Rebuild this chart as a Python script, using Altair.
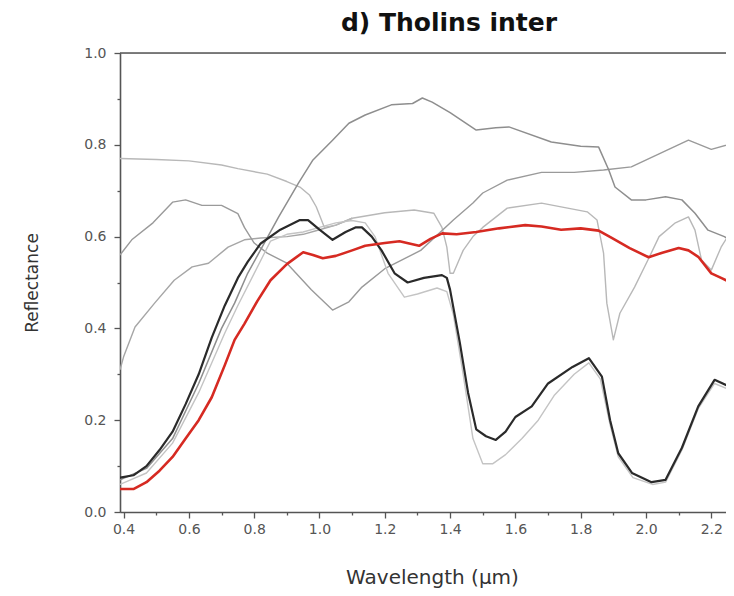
import altair as alt
import pandas as pd

# ---- data ----
red_x = [0.389, 0.43, 0.47, 0.51, 0.55, 0.59, 0.63, 0.67, 0.71, 0.74, 0.77, 0.81, 0.85, 0.90, 0.95, 0.98, 1.01, 1.05, 1.10, 1.14, 1.20, 1.245, 1.305, 1.34, 1.376, 1.42, 1.48, 1.55, 1.63, 1.68, 1.74, 1.80, 1.855, 1.895, 1.95, 2.008, 2.05, 2.10, 2.13, 2.16, 2.20, 2.23, 2.26]
red_y = [0.05, 0.05, 0.065, 0.09, 0.12, 0.16, 0.20, 0.25, 0.32, 0.375, 0.41, 0.46, 0.505, 0.54, 0.566, 0.56, 0.553, 0.558, 0.57, 0.58, 0.586, 0.59, 0.58, 0.595, 0.607, 0.605, 0.61, 0.618, 0.625, 0.622, 0.615, 0.618, 0.613, 0.597, 0.575, 0.555, 0.565, 0.575, 0.57, 0.556, 0.52, 0.51, 0.50]

black_x = [0.389, 0.43, 0.47, 0.51, 0.55, 0.59, 0.63, 0.67, 0.71, 0.75, 0.78, 0.82, 0.88, 0.94, 0.965, 1.00, 1.04, 1.08, 1.11, 1.13, 1.16, 1.19, 1.23, 1.27, 1.32, 1.375, 1.39, 1.40, 1.43, 1.455, 1.48, 1.51, 1.54, 1.57, 1.60, 1.65, 1.70, 1.775, 1.825, 1.865, 1.89, 1.915, 1.957, 2.017, 2.06, 2.11, 2.16, 2.21, 2.26]
black_y = [0.075, 0.08, 0.10, 0.135, 0.175, 0.235, 0.30, 0.38, 0.45, 0.51, 0.545, 0.585, 0.615, 0.636, 0.636, 0.615, 0.593, 0.61, 0.62, 0.62, 0.60, 0.57, 0.52, 0.50, 0.51, 0.516, 0.51, 0.484, 0.368, 0.26, 0.18, 0.165, 0.157, 0.175, 0.207, 0.23, 0.28, 0.316, 0.335, 0.295, 0.20, 0.128, 0.085, 0.065, 0.07, 0.14, 0.23, 0.288, 0.272]

lgray_x = [0.389, 0.47, 0.55, 0.63, 0.71, 0.75, 0.80, 0.85, 0.90, 0.95, 1.00, 1.05, 1.10, 1.14, 1.17, 1.21, 1.26, 1.30, 1.36, 1.39, 1.41, 1.44, 1.47, 1.50, 1.53, 1.57, 1.62, 1.67, 1.72, 1.78, 1.825, 1.86, 1.89, 1.915, 1.96, 2.02, 2.06, 2.11, 2.16, 2.21, 2.26]
lgray_y = [0.06, 0.085, 0.15, 0.26, 0.39, 0.45, 0.52, 0.59, 0.605, 0.61, 0.62, 0.63, 0.635, 0.63, 0.60, 0.52, 0.468, 0.475, 0.488, 0.48, 0.43, 0.30, 0.16, 0.105, 0.105, 0.125, 0.16, 0.20, 0.255, 0.30, 0.325, 0.29, 0.19, 0.12, 0.075, 0.06, 0.065, 0.135, 0.225, 0.28, 0.265]

peak_x = [0.389, 0.47, 0.55, 0.63, 0.70, 0.74, 0.78, 0.825, 0.875, 0.935, 0.98, 1.04, 1.09, 1.14, 1.22, 1.285, 1.315, 1.345, 1.40, 1.48, 1.54, 1.58, 1.71, 1.80, 1.855, 1.886, 1.905, 1.955, 2.00, 2.06, 2.11, 2.15, 2.19, 2.24, 2.27]
peak_y = [0.07, 0.095, 0.16, 0.28, 0.40, 0.455, 0.52, 0.578, 0.643, 0.716, 0.767, 0.81, 0.847, 0.865, 0.887, 0.89, 0.902, 0.893, 0.87, 0.832, 0.837, 0.839, 0.806, 0.797, 0.795, 0.745, 0.708, 0.68, 0.68, 0.687, 0.68, 0.651, 0.614, 0.60, 0.588]

flat_x = [0.389, 0.50, 0.60, 0.70, 0.75, 0.84, 0.90, 0.94, 0.97, 0.99, 1.015, 1.05, 1.10, 1.20, 1.29, 1.35, 1.375, 1.39, 1.40, 1.41, 1.44, 1.47, 1.50, 1.575, 1.68, 1.76, 1.82, 1.85, 1.87, 1.88, 1.90, 1.92, 1.965, 2.01, 2.04, 2.09, 2.13, 2.15, 2.17, 2.20, 2.23, 2.25, 2.27]
flat_y = [0.77, 0.768, 0.765, 0.756, 0.748, 0.736, 0.72, 0.708, 0.69, 0.665, 0.62, 0.625, 0.64, 0.652, 0.658, 0.651, 0.62, 0.577, 0.52, 0.52, 0.57, 0.60, 0.62, 0.662, 0.673, 0.662, 0.654, 0.636, 0.564, 0.455, 0.375, 0.433, 0.49, 0.555, 0.60, 0.63, 0.643, 0.614, 0.549, 0.527, 0.577, 0.60, 0.60]

hump_x = [0.389, 0.425, 0.49, 0.55, 0.59, 0.64, 0.70, 0.75, 0.77, 0.80, 0.84, 0.90, 0.975, 1.04, 1.09, 1.13, 1.20, 1.31, 1.41, 1.47, 1.50, 1.575, 1.68, 1.78, 1.87, 1.955, 2.04, 2.13, 2.20, 2.27]
hump_y = [0.56, 0.593, 0.63, 0.675, 0.68, 0.668, 0.668, 0.65, 0.62, 0.586, 0.564, 0.542, 0.484, 0.44, 0.458, 0.49, 0.53, 0.57, 0.636, 0.673, 0.695, 0.723, 0.74, 0.74, 0.745, 0.752, 0.78, 0.81, 0.79, 0.804]

rise_x = [0.389, 0.40, 0.435, 0.495, 0.555, 0.61, 0.66, 0.72, 0.77, 0.82, 0.90, 0.95, 1.00, 1.05, 1.10]
rise_y = [0.31, 0.338, 0.403, 0.455, 0.505, 0.534, 0.542, 0.577, 0.593, 0.597, 0.60, 0.605, 0.615, 0.625, 0.64]

x_ticks = [round(0.4 + 0.1 * i, 1) for i in range(19)]
y_ticks = [round(0.1 * i, 1) for i in range(11)]

series = [
    ("rise", rise_x, rise_y, "#a6a6a6", 1.4),
    ("flat", flat_x, flat_y, "#b8b8b8", 1.4),
    ("hump", hump_x, hump_y, "#9a9a9a", 1.4),
    ("peak", peak_x, peak_y, "#8e8e8e", 1.5),
    ("lgray", lgray_x, lgray_y, "#c4c4c4", 1.4),
    ("black", black_x, black_y, "#2a2a2a", 2.2),
    ("red", red_x, red_y, "#d62a22", 2.6),
]

xscale = alt.Scale(domain=[0.389, 2.245], nice=False, zero=False)
yscale = alt.Scale(domain=[0, 1], nice=False)

major = "round(datum.value*10) % 2 == 0"
lab = "round(datum.value*10) % 2 == 0 ? format(datum.value, '.1f') : ''"
common = dict(
    labelFont="DejaVu Sans", labelFontSize=14, labelColor="#555555",
    labelFlush=False, labelOverlap=False,
    domainColor="#555555", domainWidth=1.6, tickColor="#555555", tickWidth=1.3,
    grid=False, labelExpr=lab,
    titleFont="DejaVu Sans", titleFontWeight="normal", titleColor="#333333",
)
xaxis = alt.Axis(
    values=x_ticks,
    tickSize={"condition": {"test": major, "value": 6}, "value": 3},
    title="Wavelength (µm)", titleFontSize=20, titlePadding=31, titleX=312,
    labelPadding=4,
    **common,
)
yaxis = alt.Axis(
    values=y_ticks,
    tickSize={"condition": {"test": major, "value": 6}, "value": 3},
    title="Reflectance", titleFontSize=17, titlePadding=42,
    labelPadding=8,
    **common,
)

layers = []
for name, xs, ys, col, w in series:
    df = pd.DataFrame({"x": xs, "y": ys})
    layers.append(
        alt.Chart(df).mark_line(color=col, strokeWidth=w, clip=True, strokeJoin="round").encode(
            x=alt.X("x:Q", scale=xscale, axis=xaxis),
            y=alt.Y("y:Q", scale=yscale, axis=yaxis),
            order="x:Q",
        )
    )

top_frame = alt.Chart(pd.DataFrame({"y": [1.0]})).mark_rule(color="#555555", strokeWidth=1.6).encode(
    y=alt.Y("y:Q", scale=yscale, axis=yaxis), x=alt.value(0), x2=alt.value(606)
)

chart = alt.layer(*layers, top_frame).properties(
    width=606,
    height=459,
    padding={"left": 112, "top": 45, "right": 0, "bottom": 80},
    autosize=alt.AutoSizeParams(type="none"),
    title=alt.TitleParams(
        "d) Tholins inter", font="DejaVu Sans", fontSize=25, fontWeight="bold",
        color="#111111", anchor="middle", dx=26, offset=10,
    ),
).configure_view(stroke=None).configure(background="white")

chart.save("out.html", embed_options={"renderer": "svg", "actions": False})
